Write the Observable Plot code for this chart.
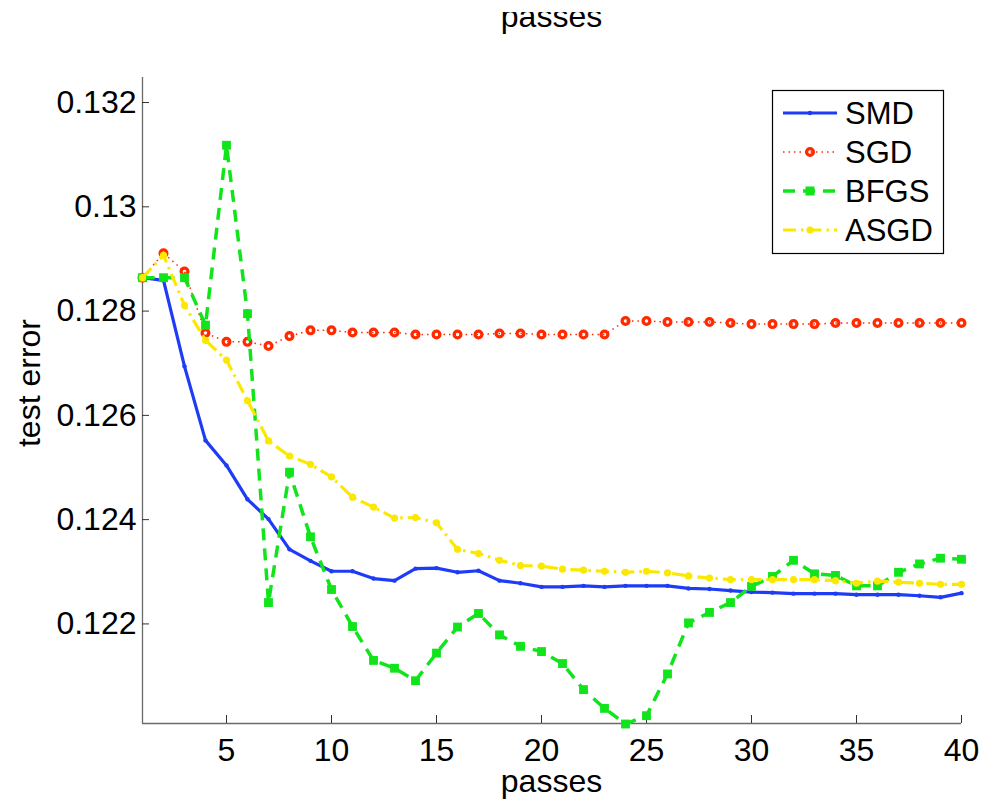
<!DOCTYPE html>
<html>
<head>
<meta charset="utf-8">
<script src="https://cdn.jsdelivr.net/npm/d3@7"></script>
<script src="https://cdn.jsdelivr.net/npm/@observablehq/plot@0.6"></script>
<style>
  html, body { margin: 0; padding: 0; background: #fff; }
  #chart { width: 983px; height: 801px; overflow: hidden; }
</style>
</head>
<body>
<div id="chart"></div>
<script>
// ---- data ----
const passes = [1,2,3,4,5,6,7,8,9,10,11,12,13,14,15,16,17,18,19,20,21,22,23,24,25,26,27,28,29,30,31,32,33,34,35,36,37,38,39,40];
const seriesNames = ["SMD", "SGD", "BFGS", "ASGD"];
const smd = [0.12864,0.12859,0.12694,0.12552,0.12504,0.12439,0.12401,0.12343,0.12321,0.12301,
             0.12301,0.12287,0.12283,0.12306,0.12307,0.12299,0.12302,0.12283,0.12278,0.12271,
             0.12271,0.12273,0.12271,0.12273,0.12273,0.12273,0.12268,0.12267,0.12264,0.12261,
             0.12260,0.12258,0.12258,0.12258,0.12256,0.12256,0.12256,0.12254,0.12251,0.12259];
const sgd = [0.12864,0.12911,0.12876,0.12758,0.12741,0.12741,0.12733,0.12752,0.12763,0.12763,
             0.12759,0.12759,0.12759,0.12755,0.12755,0.12755,0.12755,0.12757,0.12757,0.12755,
             0.12755,0.12755,0.12755,0.12781,0.12781,0.12779,0.12779,0.12779,0.12777,0.12775,
             0.12775,0.12775,0.12775,0.12777,0.12777,0.12777,0.12777,0.12777,0.12777,0.12777];
const bfgs = [0.12864,0.12864,0.12864,0.12773,0.13118,0.12795,0.12241,0.12491,0.12367,0.12266,
              0.12195,0.12130,0.12115,0.12091,0.12144,0.12194,0.12220,0.12179,0.12157,0.12147,
              0.12124,0.12074,0.12038,0.12008,0.12024,0.12104,0.12202,0.12222,0.12241,0.12272,
              0.12291,0.12322,0.12296,0.12293,0.12273,0.12273,0.12299,0.12315,0.12326,0.12324];
const asgd = [0.12864,0.12907,0.12811,0.12744,0.12706,0.12628,0.12551,0.12522,0.12506,0.12482,
              0.12443,0.12424,0.12403,0.12404,0.12394,0.12343,0.12335,0.12322,0.12312,0.12311,
              0.12305,0.12303,0.12301,0.12299,0.12301,0.12298,0.12292,0.12288,0.12285,0.12285,
              0.12285,0.12285,0.12285,0.12283,0.12278,0.12282,0.12280,0.12278,0.12276,0.12276];
const xTicks = [5,10,15,20,25,30,35,40];
const yTicks = [0.122,0.124,0.126,0.128,0.130,0.132];
const xLabel = "passes";
const yLabel = "test error";

// ---- styles ----
const styles = {
  SMD:  {color: "#1e3cf5", width: 3.2, dash: null,          symbol: "circle", r: 2.2, fill: true,  sw: 0},
  SGD:  {color: "#ff2a00", width: 1.5, dash: "1.5,4",       symbol: "circle", r: 3.4, fill: false, sw: 3.2},
  BFGS: {color: "#12e41c", width: 3.5, dash: "12,8",        symbol: "square", r: 5.0, fill: true,  sw: 0},
  ASGD: {color: "#fbe800", width: 3.2, dash: "13,5,2.5,5",  symbol: "circle", r: 3.6, fill: true,  sw: 0}
};
const valuesBy = {SMD: smd, SGD: sgd, BFGS: bfgs, ASGD: asgd};
const data = seriesNames.map(name => passes.map((p, i) => ({series: name, passes: p, err: valuesBy[name][i]})));

const W = 983, H = 801;
const mL = 142, mR = 22, mT = 77, mB = 78;
const yMin = 0.12009, yMax = 0.13248;
const axisColor = "#6a6a6a";

const marks = [
  Plot.ruleX([1], {stroke: axisColor, strokeWidth: 1.3}),
  Plot.ruleY([yMin], {stroke: axisColor, strokeWidth: 1.3}),
  Plot.tickY(yTicks, {y: d => d, stroke: "#333", strokeWidth: 1, insetRight: (W - mL - mR) - 7}),
  Plot.tickX(xTicks, {x: d => d, stroke: "#333", strokeWidth: 1, insetTop: (H - mT - mB) - 8})
];
for (const rows of data) {
  const s = styles[rows[0].series];
  marks.push(Plot.line(rows, {x: "passes", y: "err", stroke: s.color, strokeWidth: s.width,
    strokeDasharray: s.dash, strokeLinejoin: "round", strokeLinecap: s.dash ? "butt" : "round"}));
  marks.push(Plot.dot(rows, {x: "passes", y: "err", symbol: s.symbol, r: s.r,
    fill: s.fill ? s.color : "none", stroke: s.fill ? "none" : s.color, strokeWidth: s.sw}));
}

const chart = Plot.plot({
  width: W, height: H,
  marginLeft: mL, marginRight: mR, marginTop: mT, marginBottom: mB,
  style: {fontFamily: "'Liberation Sans', Arial, Helvetica, sans-serif", fontSize: "32px", background: "#fff", color: "#000", overflow: "visible"},
  x: {domain: [1, 40], ticks: xTicks, tickSize: 0, tickPadding: 15, label: null, tickFormat: d => String(d)},
  y: {domain: [yMin, yMax], ticks: yTicks, tickSize: 0, tickPadding: 6, label: null, tickFormat: d => String(+d.toFixed(3))},
  marks
});
document.getElementById("chart").appendChild(chart);

// ---- labels & legend ----
const svg = d3.select(chart);
const xs = chart.scale("x");
const cx = (xs.apply(1) + xs.apply(40)) / 2;
const font = "'Liberation Sans', Arial, Helvetica, sans-serif";

svg.append("text").attr("x", cx).attr("y", 791.5).attr("text-anchor", "middle")
  .attr("font-family", font).attr("font-size", 32).attr("fill", "#000").text(xLabel);
// top clipped duplicate label
svg.append("text").attr("x", cx).attr("y", 26.5).attr("text-anchor", "middle")
  .attr("font-family", font).attr("font-size", 32).attr("fill", "#000").text(xLabel);
svg.append("rect").attr("x", 0).attr("y", 0).attr("width", W).attr("height", 12).attr("fill", "#fff");

svg.append("text").attr("transform", "translate(40,383) rotate(-90)").attr("text-anchor", "middle")
  .attr("font-family", font).attr("font-size", 32).attr("fill", "#000").text(yLabel);

const lg = svg.append("g");
lg.append("rect").attr("x", 772.5).attr("y", 90.5).attr("width", 171).attr("height", 163)
  .attr("fill", "#fff").attr("stroke", "#000").attr("stroke-width", 1.2);
seriesNames.forEach((name, i) => {
  const s = styles[name];
  const yy = 113 + i * 39;
  lg.append("line").attr("x1", 783).attr("x2", 837).attr("y1", yy).attr("y2", yy)
    .attr("stroke", s.color).attr("stroke-width", s.width).attr("stroke-dasharray", s.dash || null);
  if (s.symbol === "square") {
    lg.append("rect").attr("x", 810 - 4.5).attr("y", yy - 4.5).attr("width", 9).attr("height", 9).attr("fill", s.color);
  } else {
    lg.append("circle").attr("cx", 810).attr("cy", yy).attr("r", s.r)
      .attr("fill", s.fill ? s.color : "none").attr("stroke", s.fill ? "none" : s.color).attr("stroke-width", s.sw);
  }
  lg.append("text").attr("x", 845).attr("y", yy).attr("dy", "0.35em").attr("text-anchor", "start")
    .attr("font-family", font).attr("font-size", 31).attr("fill", "#000").text(name);
});
</script>
</body>
</html>
